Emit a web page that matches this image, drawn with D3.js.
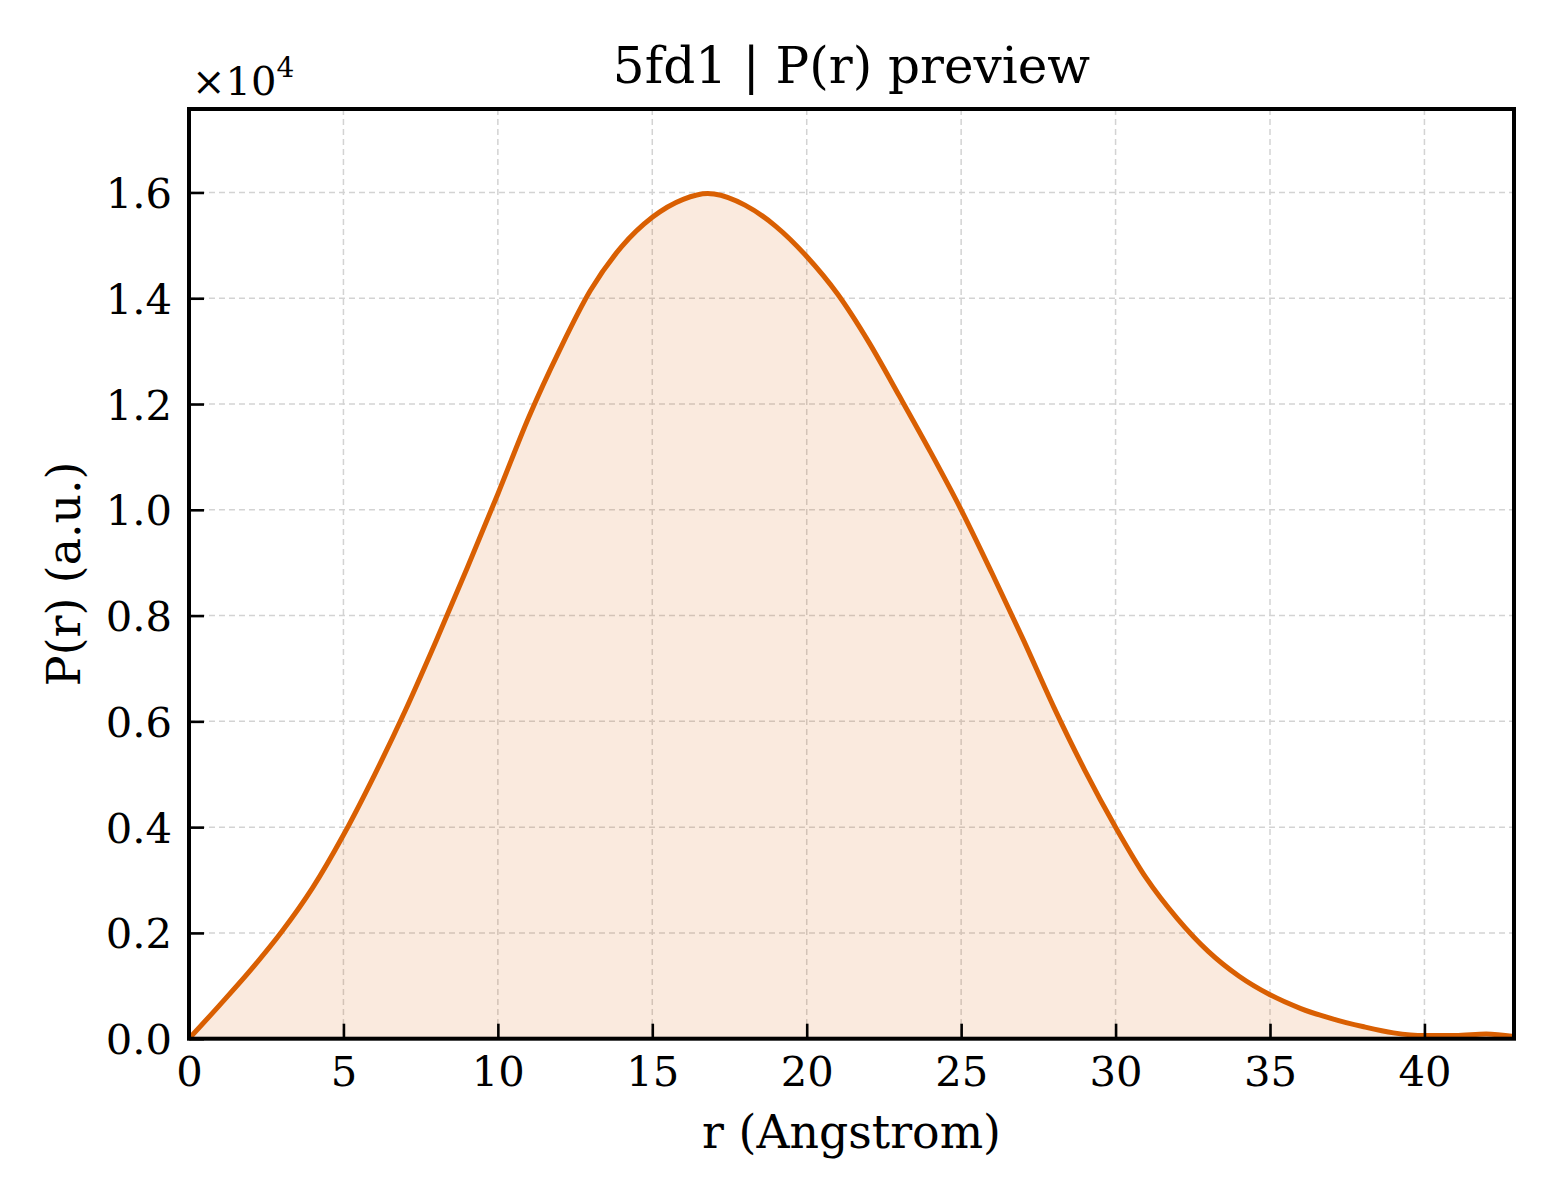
<!DOCTYPE html>
<meta charset="utf-8">
<html>
<head>
    <title>P(r) preview</title>
    <script src="https://cdn.jsdelivr.net/npm/d3@7"></script>
</head>
<style>
    body { margin: 0; background: white; }
    svg { display: block; }
    text { font-family: "DejaVu Serif", serif; fill: #000; }
    .grid line { stroke: #d3d3d3; stroke-width: 1.5px; stroke-dasharray: 6,4; }
</style>
<body>
<svg width="1560" height="1200"></svg>
<script>
    // r in Angstrom, P(r) in units of 1e4
    const r_values = [0, 1, 2, 3, 4, 5, 6, 7, 8, 9, 10, 11, 12, 13, 14, 15, 16, 16.8, 17, 18, 19, 20,
        21, 22, 23, 24, 25, 26, 27, 28, 29, 30, 31, 32, 33, 34, 35, 36, 37, 38, 39, 40, 41, 42, 42.9]
    const pr_values = [0, 0.064, 0.130, 0.202, 0.285, 0.385, 0.498, 0.620, 0.752, 0.889, 1.030, 1.175, 1.302, 1.415,
        1.497, 1.553, 1.587, 1.598, 1.597, 1.576, 1.536, 1.479,
        1.408, 1.318, 1.215, 1.110, 1.000, 0.880, 0.756, 0.627, 0.508, 0.400, 0.303, 0.227, 0.165, 0.118,
        0.083, 0.057, 0.038, 0.023, 0.011, 0.006, 0.006, 0.009, 0.004]
    const x_ticks = [0, 5, 10, 15, 20, 25, 30, 35, 40]
    const y_ticks = [0, 0.2, 0.4, 0.6, 0.8, 1.0, 1.2, 1.4, 1.6]

    const data = r_values.map((r, i) => ({r: r, p: pr_values[i]}))

    const svg = d3.select("svg")
    const pLeft = 189, pRight = 1514, pTop = 109, pBottom = 1038.7
    const lineColor = "#d95f02"

    const x = d3.scaleLinear().domain([0, 42.9]).range([pLeft, pRight])
    const y = d3.scaleLinear().domain([0, d3.max(pr_values) * 1.1]).range([pBottom, pTop])

    // grid
    const grid = svg.append("g").attr("class", "grid")
    grid.selectAll(".gx").data(x_ticks.filter(d => d > 0)).enter().append("line")
        .attr("x1", d => x(d)).attr("x2", d => x(d))
        .attr("y1", pTop).attr("y2", pBottom)
    grid.selectAll(".gy").data(y_ticks.filter(d => d > 0)).enter().append("line")
        .attr("x1", pLeft).attr("x2", pRight)
        .attr("y1", d => y(d)).attr("y2", d => y(d))

    // area + line
    const area = d3.area().x(d => x(d.r)).y0(y(0)).y1(d => y(d.p)).curve(d3.curveMonotoneX)
    const line = d3.line().x(d => x(d.r)).y(d => y(d.p)).curve(d3.curveMonotoneX)

    svg.append("path").datum(data).attr("d", area)
        .attr("fill", lineColor).attr("fill-opacity", 0.13)
    svg.append("path").datum(data).attr("d", line)
        .attr("fill", "none").attr("stroke", lineColor).attr("stroke-width", 5)
        .attr("stroke-linejoin", "round")

    // axes (ticks pointing inward)
    const xAxis = d3.axisBottom(x).tickValues(x_ticks).tickFormat(d3.format("d"))
        .tickSizeInner(-15).tickSizeOuter(0).tickPadding(30)
    const yAxis = d3.axisLeft(y).tickValues(y_ticks).tickFormat(d3.format(".1f"))
        .tickSizeInner(-15).tickSizeOuter(0).tickPadding(30)

    const gx = svg.append("g").attr("transform", `translate(0,${pBottom})`).call(xAxis)
    const gy = svg.append("g").attr("transform", `translate(${pLeft},0)`).call(yAxis)
    ;[gx, gy].forEach(g => {
        g.select(".domain").remove()
        g.selectAll(".tick line").attr("stroke", "#000").attr("stroke-width", 2.6)
        g.selectAll(".tick text").style("font-family", '"DejaVu Serif", serif')
            .style("font-size", "41.7px").attr("fill", "#000")
    })
    gx.selectAll(".tick text").attr("y", 47).attr("dy", 0)
    gy.selectAll(".tick text").attr("x", -17).attr("dy", "0.36em")

    // frame
    svg.append("rect").attr("x", pLeft).attr("y", pTop)
        .attr("width", pRight - pLeft).attr("height", pBottom - pTop)
        .attr("fill", "none").attr("stroke", "#000").attr("stroke-width", 4)

    // texts
    svg.append("text").attr("x", (pLeft + pRight) / 2).attr("y", 83)
        .attr("text-anchor", "middle").style("font-size", "50px")
        .text("5fd1 | P(r) preview")

    svg.append("text").attr("x", (pLeft + pRight) / 2).attr("y", 1148)
        .attr("text-anchor", "middle").style("font-size", "45.8px")
        .text("r (Angstrom)")

    svg.append("text")
        .attr("transform", `translate(80,${(pTop + pBottom) / 2}) rotate(-90)`)
        .attr("text-anchor", "middle").style("font-size", "45.8px")
        .text("P(r) (a.u.)")

    const off = svg.append("text").attr("x", 192).attr("y", 95).style("font-size", "40px")
    off.append("tspan").text("×10")
    off.append("tspan").attr("dy", -18).style("font-size", "28px").text("4")
</script>
</body>
</html>
